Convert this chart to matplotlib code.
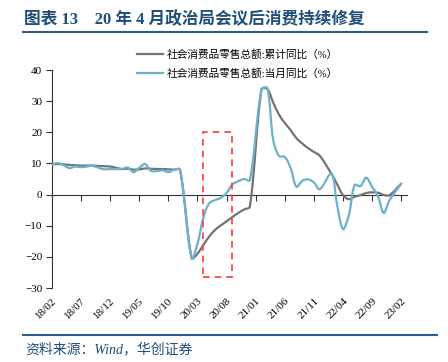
import numpy as np
import matplotlib.pyplot as plt
from matplotlib.path import Path
from matplotlib.patches import PathPatch, Rectangle
from matplotlib.lines import Line2D

# 月份（1月与2月合并公布，故无1月数据）
months = ['18/02', '18/03', '18/04', '18/05', '18/06', '18/07', '18/08', '18/09', '18/10', '18/11', '18/12',
          '19/02', '19/03', '19/04', '19/05', '19/06', '19/07', '19/08', '19/09', '19/10', '19/11', '19/12',
          '20/02', '20/03', '20/04', '20/05', '20/06', '20/07', '20/08', '20/09', '20/10', '20/11', '20/12',
          '21/02', '21/03', '21/04', '21/05', '21/06', '21/07', '21/08', '21/09', '21/10', '21/11', '21/12',
          '22/02', '22/03', '22/04', '22/05', '22/06', '22/07', '22/08', '22/09', '22/10', '22/11', '22/12',
          '23/02']

# 社会消费品零售总额:累计同比(%)
cum_yoy = [9.7, 9.8, 9.7, 9.5, 9.4, 9.3, 9.3, 9.3, 9.2, 9.1, 9.0,
           8.2, 8.3, 8.0, 8.1, 8.4, 8.3, 8.2, 8.2, 8.1, 8.0, 8.0,
           -20.5, -19.0, -16.2, -13.5, -11.4, -9.9, -8.6, -7.2, -5.9, -4.8, -3.9,
           33.8, 33.9, 29.6, 25.7, 23.0, 20.7, 18.1, 16.4, 14.9, 13.7, 12.5,
           6.7, 3.3, -0.2, -1.5, -0.7, -0.2, 0.5, 0.7, 0.6, -0.1, -0.2,
           3.5]

# 社会消费品零售总额:当月同比(%)
mon_yoy = [9.7, 10.1, 9.4, 8.5, 9.0, 8.8, 9.0, 9.2, 8.6, 8.1, 8.2,
           8.2, 8.7, 7.2, 8.6, 9.8, 7.6, 7.5, 7.8, 7.2, 8.0, 8.0,
           -20.5, -15.8, -7.5, -2.8, -1.8, -1.1, 0.5, 3.3, 4.3, 5.0, 4.6,
           33.8, 34.2, 17.7, 12.4, 12.1, 8.5, 2.5, 4.4, 4.9, 3.9, 1.7,
           6.7, -3.5, -11.1, -6.7, 3.1, 2.7, 5.4, 2.5, -0.5, -5.9, -1.8,
           3.5]

tick_labels = ['18/02', '18/07', '18/12', '19/05', '19/10', '20/03', '20/08',
               '21/01', '21/06', '21/11', '22/04', '22/09', '23/02']

cjk = ['Liberation Serif', 'Noto Sans CJK SC']


def month_pos(s):
    yy, mm = s.split('/')
    return (int(yy) - 18) * 12 + int(mm) - 2


def smooth_path(ax, x, y):
    # 类似 Excel 的平滑线：在像素坐标中计算贝塞尔控制点，按相邻线段长度分配切线
    pts = ax.transData.transform(np.column_stack([x, y]))
    n = len(pts)
    seg = np.linalg.norm(np.diff(pts, axis=0), axis=1)
    out_c, in_c = [], []
    for i in range(n):
        prev = pts[i - 1] if i > 0 else pts[i]
        nxt = pts[i + 1] if i < n - 1 else pts[i]
        t = nxt - prev
        d_in = seg[i - 1] if i > 0 else 0.0
        d_out = seg[i] if i < n - 1 else 0.0
        tot = d_in + d_out
        if tot == 0:
            out_c.append(pts[i])
            in_c.append(pts[i])
            continue
        out_c.append(pts[i] + t / 3 * d_out / tot)
        in_c.append(pts[i] - t / 3 * d_in / tot)
    verts = [pts[0]]
    codes = [Path.MOVETO]
    for i in range(n - 1):
        verts += [out_c[i], in_c[i + 1], pts[i + 1]]
        codes += [Path.CURVE4] * 3
    verts = ax.transData.inverted().transform(np.array(verts))
    return Path(verts, codes)


W, H = 448, 362
fig = plt.figure(figsize=(W / 100, H / 100), dpi=100)
ax = fig.add_axes([52 / W, 1 - 288 / H, 355 / W, 218 / H])
ax.set_xlim(0, 61)
ax.set_ylim(-30, 40)

x = [month_pos(m) for m in months]
gray = '#737373'
blue = '#6BB0CC'

ax.add_patch(PathPatch(smooth_path(ax, x, cum_yoy), fill=False, edgecolor=gray,
                       lw=1.6, capstyle='round', joinstyle='round', zorder=3))
ax.add_patch(PathPatch(smooth_path(ax, x, mon_yoy), fill=False, edgecolor=blue,
                       lw=1.6, capstyle='round', joinstyle='round', zorder=4))

# 红色虚线框
x0, x1 = month_pos('20/04'), month_pos('20/09')
ax.add_patch(Rectangle((x0, -26.5), x1 - x0, 46.5, fill=False, edgecolor='#FF3B3B',
                       lw=1.2, linestyle=(0, (4, 3)), zorder=5))

ax.set_yticks(range(-30, 41, 10))

for s in ['top', 'right']:
    ax.spines[s].set_visible(False)
ax.spines['left'].set_color('#333333')
ax.spines['bottom'].set_position(('data', 0))
ax.spines['bottom'].set_color('#333333')

tick_pos = [month_pos(t) for t in tick_labels]
ax.set_xticks(tick_pos)
ax.tick_params(axis='x', direction='out', length=4, color='#333333', labelbottom=False)
ax.tick_params(axis='y', direction='out', length=4, color='#333333', labelsize=8, pad=3)
for lab in ax.get_yticklabels():
    lab.set_family('Liberation Serif')

sec = ax.secondary_xaxis(0)
sec.set_xticks(tick_pos, tick_labels, rotation=45, ha='right', rotation_mode='anchor',
               family='Liberation Serif', fontsize=8)
sec.tick_params(length=0, pad=6)
sec.spines['bottom'].set_visible(False)

handles = [Line2D([], [], color=gray, lw=1.6), Line2D([], [], color=blue, lw=1.6)]
fig.legend(handles, ['社会消费品零售总额:累计同比（%）', '社会消费品零售总额:当月同比（%）'],
           loc='upper left', bbox_to_anchor=(132 / W, 1 - 44 / H), frameon=False,
           prop={'family': cjk, 'size': 7.7}, handlelength=2.4, handletextpad=0.3,
           labelspacing=0.75, borderpad=0)

title_color = '#1F4E79'
fig.text(24 / W, 1 - 20 / H, '图表 13    20 年 4 月政治局会议后消费持续修复',
         family=cjk, fontsize=12, weight='bold', color=title_color, va='center')
fig.add_artist(Line2D([23 / W, 427 / W], [1 - 32 / H, 1 - 32 / H], color='#2E5C8A', lw=1.5))
fig.add_artist(Line2D([23 / W, 437 / W], [1 - 335 / H, 1 - 335 / H], color='#2E5C8A', lw=1.5))
fig.text(25 / W, 1 - 349 / H, '资料来源：Wind，华创证券', family=cjk, fontsize=10,
         style='italic', color=title_color, va='center')

fig.savefig('out.png', dpi=100)
